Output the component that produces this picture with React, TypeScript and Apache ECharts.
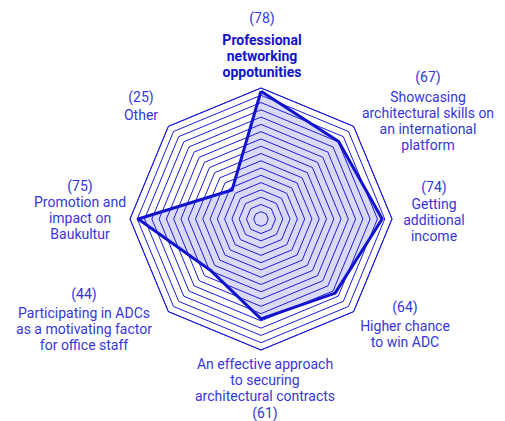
import React, { useEffect, useRef } from "react";
import * as echarts from "echarts";

// ---- data ----
const indicatorNames: string[] = [
  "Professional networking oppotunities",
  "Showcasing architectural skills on an international platform",
  "Getting additional income",
  "Higher chance to win ADC",
  "An effective approach to securing architectural contracts",
  "Participating in ADCs as a motivating factor for office staff",
  "Promotion and impact on Baukultur",
  "Other",
];
const labelLines: string[] = [
  "Professional\nnetworking\noppotunities",
  "Showcasing\narchitectural skills on\nan international\nplatform",
  "Getting\nadditional\nincome",
  "Higher chance\nto win ADC",
  "An effective approach\nto securing\narchitectural contracts",
  "Participating in ADCs\nas a motivating factor\nfor office staff",
  "Promotion and\nimpact on\nBaukultur",
  "Other",
];
const values: number[] = [78, 67, 74, 64, 61, 44, 75, 25];
const axisMax = 80;
const highlighted = 0;

// ---- layout (label anchors, px) ----
const valuePos: [number, number][] = [
  [262, 18], [428, 77], [434, 187], [405, 307], [265, 413], [84, 294], [80, 186], [141, 97],
];
const namePos: [number, number][] = [
  [262, 40], [428, 97], [434, 204], [405, 326], [265, 364], [84, 313], [80, 202], [141, 115],
];

const LINE = "#1c1cd4";
const TEXT = "#3636dc";
const FONT = "Roboto, 'Noto Sans', sans-serif";

export default function App() {
  const ref = useRef<HTMLDivElement>(null);
  useEffect(() => {
    if (!ref.current) return;
    const chart = echarts.init(ref.current, undefined, { renderer: "svg" });
    // ECharts lays indicators counter-clockwise; reorder so they go clockwise
    const order = [0, ...indicatorNames.slice(1).map((_, i) => indicatorNames.length - 1 - i)];
    const indicator = order.map((i) => ({ name: indicatorNames[i], max: axisMax, min: 0 }));
    const data = order.map((i) => values[i]);

    const graphics: any[] = [];
    indicatorNames.forEach((_, i) => {
      graphics.push({
        type: "text",
        x: valuePos[i][0],
        y: valuePos[i][1],
        style: {
          text: `(${values[i]})`,
          fill: TEXT,
          font: `14px ${FONT}`,
          align: "center",
          textAlign: "center",
          verticalAlign: "middle",
          textVerticalAlign: "middle",
        },
      });
      graphics.push({
        type: "text",
        x: namePos[i][0],
        y: namePos[i][1] - 8,
        style: {
          text: labelLines[i],
          fill: i === highlighted ? "#1212c8" : TEXT,
          font: `${i === highlighted ? "bold " : ""}14px ${FONT}`,
          lineHeight: 16,
          align: "center",
          textAlign: "center",
          verticalAlign: "top",
          textVerticalAlign: "top",
        },
      });
    });

    chart.setOption({
      animation: false,
      radar: {
        center: [261, 219],
        radius: 131,
        shape: "polygon",
        splitNumber: 18,
        startAngle: 90,
        indicator,
        axisName: { show: false },
        axisLine: { show: false },
        axisTick: { show: false },
        axisLabel: { show: false },
        splitArea: { show: false },
        splitLine: { lineStyle: { color: LINE, width: 1 } },
      },
      series: [
        {
          type: "radar",
          symbol: "none",
          data: [
            {
              value: data,
              lineStyle: { color: "#1010cc", width: 3 },
              areaStyle: { color: "#2a2ae6", opacity: 0.18 },
            },
          ],
        },
      ],
      graphic: graphics,
    });
    return () => chart.dispose();
  }, []);
  return (
    <div
      ref={ref}
      style={{ position: "fixed", left: 0, top: 0, width: 505, height: 421, background: "#fff" }}
    />
  );
}
